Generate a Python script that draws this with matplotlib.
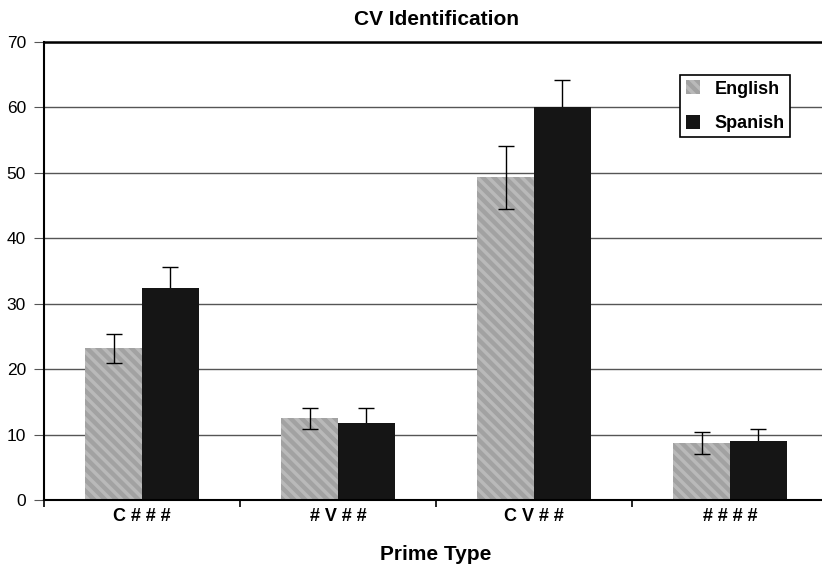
import numpy as np
import matplotlib.pyplot as plt

plt.rcParams['font.family'] = ['Liberation Sans', 'DejaVu Sans']
plt.rcParams['hatch.linewidth'] = 2.5

# Data
categories = ['C # # #', '# V # #', 'C V # #', '# # # #']
english = [23.2, 12.5, 49.3, 8.7]
spanish = [32.4, 11.8, 60.0, 9.0]
english_err = [2.2, 1.6, 4.8, 1.7]
spanish_err = [3.2, 2.2, 4.2, 1.8]

x = np.arange(len(categories))
w = 0.29

fig = plt.figure(figsize=(8.22, 5.66), dpi=100)
ax = fig.add_axes([44 / 822, 66 / 566, 784 / 822, 458 / 566])

ax.bar(x - w / 2, english, width=w, color='#a2a2a2', edgecolor='#b9b9b9',
       linewidth=0, hatch='\\\\\\', label='English', zorder=2)
ax.bar(x + w / 2, spanish, width=w, color='#151515', edgecolor='#151515',
       linewidth=0, label='Spanish', zorder=2)
ax.errorbar(x - w / 2, english, yerr=english_err, fmt='none', ecolor='black',
            elinewidth=1, capsize=5.5, capthick=1, zorder=3)
# spanish bars hide the lower half of their error bars
ax.errorbar(x + w / 2, spanish, yerr=spanish_err, fmt='none', ecolor='black',
            elinewidth=1, capsize=5.5, capthick=1, zorder=1.5)

ax.set_xlim(-0.5, 3.5)
ax.set_ylim(0, 70)
ax.set_yticks(np.arange(0, 71, 10))
ax.yaxis.grid(True, color='#555555', linewidth=1)
ax.set_axisbelow(True)

ax.set_xticks(x)
ax.set_xticklabels(categories, fontsize=13, fontweight='bold')
ax.set_xticks(np.arange(-0.5, 3.6, 1), minor=True)
ax.tick_params(axis='x', which='major', length=0, pad=6)
ax.tick_params(axis='x', which='minor', length=5, width=1.2, direction='out')
ax.tick_params(axis='y', length=7, color='#555555', labelsize=12.5, pad=6)

ax.spines['right'].set_visible(False)
ax.spines['top'].set_linewidth(1.8)
ax.spines['left'].set_linewidth(1.5)
ax.spines['bottom'].set_linewidth(1.5)

ax.set_title('CV Identification', fontsize=15, fontweight='bold', pad=12)
ax.set_xlabel('Prime Type', fontsize=15, fontweight='bold', labelpad=14)

leg = ax.legend(loc='upper right', bbox_to_anchor=(746 / 784, 425 / 458),
                prop={'weight': 'bold', 'size': 13}, frameon=True, fancybox=False,
                edgecolor='black', framealpha=1, handlelength=0.8,
                handleheight=0.8, handletextpad=0.8, borderpad=0.3,
                labelspacing=0.95, borderaxespad=0)
leg.get_frame().set_linewidth(1.2)

fig.savefig('out.png', dpi=100)
